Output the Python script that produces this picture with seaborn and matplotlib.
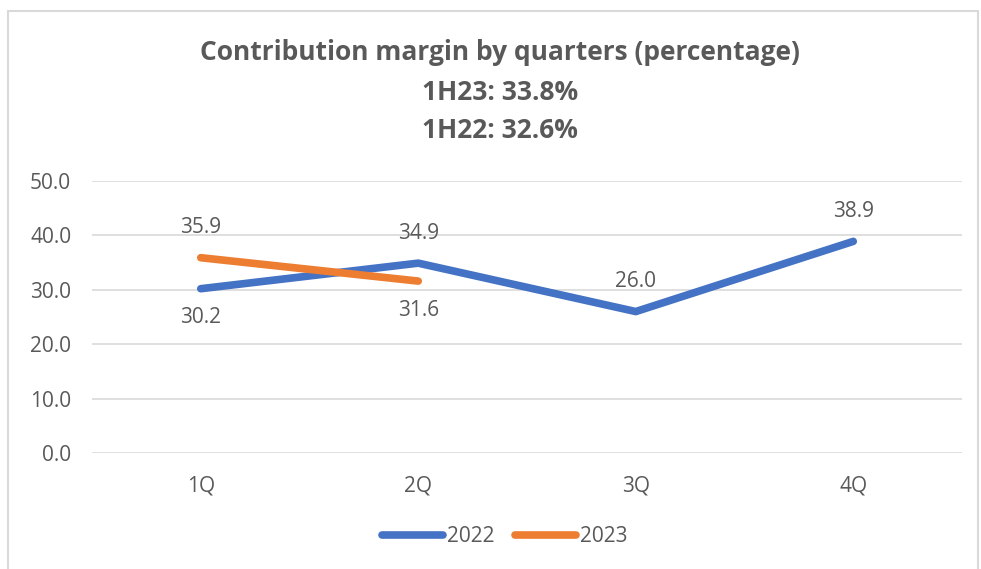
import matplotlib
matplotlib.use("Agg")
import matplotlib.pyplot as plt
import seaborn as sns
import pandas as pd
from matplotlib.patches import Rectangle
from matplotlib.lines import Line2D

quarters = ["1Q", "2Q", "3Q", "4Q"]
values_2022 = [30.2, 34.9, 26.0, 38.9]
quarters_2023 = ["1Q", "2Q"]
values_2023 = [35.9, 31.6]
label_pos_2022 = ["below", "above", "above", "above"]
label_pos_2023 = ["above", "below"]
title_lines = ["Contribution margin by quarters (percentage)", "1H23: 33.8%", "1H22: 32.6%"]
yticks = [0, 10, 20, 30, 40, 50]

sns.set_theme(style="white")
plt.rcParams["font.family"] = ["Open Sans", "DejaVu Sans"]

gray = "#595959"
c22 = "#4472C4"
c23 = "#ED7D31"
fs = 15

df = pd.DataFrame({
    "quarter": quarters + quarters_2023,
    "value": values_2022 + values_2023,
    "year": ["2022"] * len(values_2022) + ["2023"] * len(values_2023),
})
df["x"] = df["quarter"].map({q: i for i, q in enumerate(quarters)})

fig = plt.figure(figsize=(9.81, 5.69), dpi=100)
ax = fig.add_axes([92 / 981, 116 / 569, 870 / 981, 272 / 569])

sns.lineplot(data=df, x="x", y="value", hue="year", palette={"2022": c22, "2023": c23},
             linewidth=5.5, ax=ax, legend=False, solid_capstyle="round")

ax.set_xlim(-0.5, 3.5)
ax.set_ylim(0, 50)
ax.set_yticks(yticks)
ax.set_yticklabels([f"{v:.1f}" for v in yticks])
ax.set_xticks(range(len(quarters)))
ax.set_xticklabels(quarters)
ax.tick_params(axis="both", colors=gray, labelsize=fs, length=0)
ax.tick_params(axis="y", pad=15)
ax.tick_params(axis="x", pad=16)
for lab in ax.get_xticklabels() + ax.get_yticklabels():
    lab.set_color(gray)
ax.set_xlabel("")
ax.set_ylabel("")
ax.grid(axis="y", color="#D9D9D9", linewidth=1.2)
ax.set_axisbelow(True)
for s in ax.spines.values():
    s.set_visible(False)

def label(xs, ys, poss):
    for xx, yy, p in zip(xs, ys, poss):
        off = 21.5 if p == "above" else -21
        ax.annotate(f"{yy:.1f}", (xx, yy), xytext=(0, off), textcoords="offset points",
                    ha="center", va="center", fontsize=fs, color=gray)

label(range(len(values_2022)), values_2022, label_pos_2022)
label([quarters.index(q) for q in quarters_2023], values_2023, label_pos_2023)

for t, y in zip(title_lines, [53, 93, 130]):
    fig.text(500 / 981, 1 - y / 569, t, ha="center", va="center", fontsize=19,
             fontweight="bold", color=gray)

handles = [Line2D([], [], color=c22, lw=5.5, solid_capstyle="round"),
           Line2D([], [], color=c23, lw=5.5, solid_capstyle="round")]
leg = fig.legend(handles, ["2022", "2023"], loc="center", bbox_to_anchor=(505 / 981, 1 - 537 / 569),
                 ncol=2, frameon=False, fontsize=fs, handlelength=2.9, handletextpad=0.2,
                 columnspacing=1.0)
for t in leg.get_texts():
    t.set_color(gray)

fig.patches.append(Rectangle((8 / 981, -0.01), 970 / 981, 1 - 11 / 569 + 0.01,
                             transform=fig.transFigure, fill=False, edgecolor="#D9D9D9", lw=1.5))

fig.savefig("out.png", dpi=100)
